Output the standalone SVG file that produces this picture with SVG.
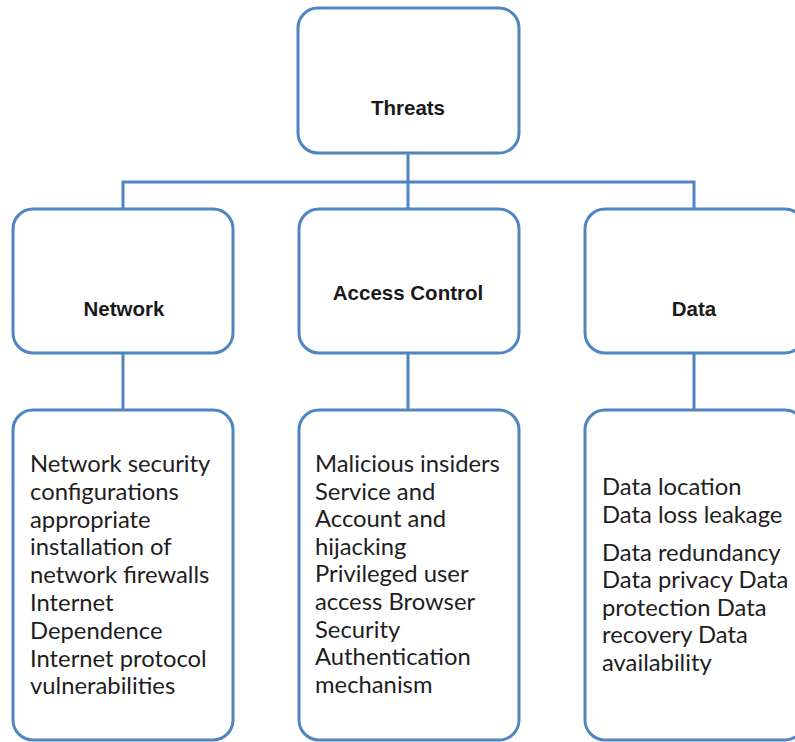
<svg xmlns="http://www.w3.org/2000/svg" width="795" height="742" viewBox="0 0 795 742">
<style>
.box{fill:#ffffff;stroke:#4f86c1;stroke-width:3}
.conn{fill:none;stroke:#4f86c1;stroke-width:3}
.title{font-family:"Liberation Sans",Arial,sans-serif;font-weight:bold;font-size:20.5px;fill:#1a1a1a;text-anchor:middle}
.body{font-family:Lato,"Liberation Sans",sans-serif;font-size:23.8px;fill:#1e1e1e}
</style>
<rect x="0" y="0" width="795" height="742" fill="#ffffff"/>
<g id="connectors">
<path class="conn" d="M408,153 V209"/>
<path class="conn" d="M123,209 V182 H694 V209"/>
<path class="conn" d="M123,353 V410"/>
<path class="conn" d="M408,353 V410"/>
<path class="conn" d="M694,353 V410"/>
</g>
<g id="threats">
<rect class="box" x="298" y="8" width="221" height="145" rx="20"/>
<text class="title" x="408" y="115">Threats</text>
</g>
<g id="network">
<rect class="box" x="13" y="209" width="220" height="144" rx="20"/>
<text class="title" x="124" y="316">Network</text>
</g>
<g id="access-control">
<rect class="box" x="299" y="209" width="220" height="144" rx="20"/>
<text class="title" x="408" y="300">Access Control</text>
</g>
<g id="data">
<rect class="box" x="585" y="209" width="220" height="144" rx="20"/>
<text class="title" x="694" y="316">Data</text>
</g>
<g id="network-details">
<rect class="box" x="13" y="410" width="220" height="330" rx="20"/>
<text class="body" x="30" y="472">
<tspan x="30" y="472">Network security</tspan>
<tspan x="30" y="499.8">configurations</tspan>
<tspan x="30" y="527.6">appropriate</tspan>
<tspan x="30" y="555.4">installation of</tspan>
<tspan x="30" y="583.2">network firewalls</tspan>
<tspan x="30" y="611">Internet</tspan>
<tspan x="30" y="638.8">Dependence</tspan>
<tspan x="30" y="666.6">Internet protocol</tspan>
<tspan x="30" y="694.4">vulnerabilities</tspan>
</text>
</g>
<g id="access-control-details">
<rect class="box" x="299" y="410" width="220" height="330" rx="20"/>
<text class="body" x="315" y="472">
<tspan x="315" y="472">Malicious insiders</tspan>
<tspan x="315" y="499.6">Service and</tspan>
<tspan x="315" y="527.2">Account and</tspan>
<tspan x="315" y="554.8">hijacking</tspan>
<tspan x="315" y="582.4">Privileged user</tspan>
<tspan x="315" y="610">access Browser</tspan>
<tspan x="315" y="637.6">Security</tspan>
<tspan x="315" y="665.2">Authentication</tspan>
<tspan x="315" y="692.8">mechanism</tspan>
</text>
</g>
<g id="data-details">
<rect class="box" x="585" y="410" width="220" height="330" rx="20"/>
<text class="body" x="602" y="495">
<tspan x="602" y="495">Data location</tspan>
<tspan x="602" y="522.5">Data loss leakage</tspan>
<tspan x="602" y="560.5">Data redundancy</tspan>
<tspan x="602" y="588">Data privacy Data</tspan>
<tspan x="602" y="615.5">protection Data</tspan>
<tspan x="602" y="643">recovery Data</tspan>
<tspan x="602" y="670.5">availability</tspan>
</text>
</g>
</svg>
